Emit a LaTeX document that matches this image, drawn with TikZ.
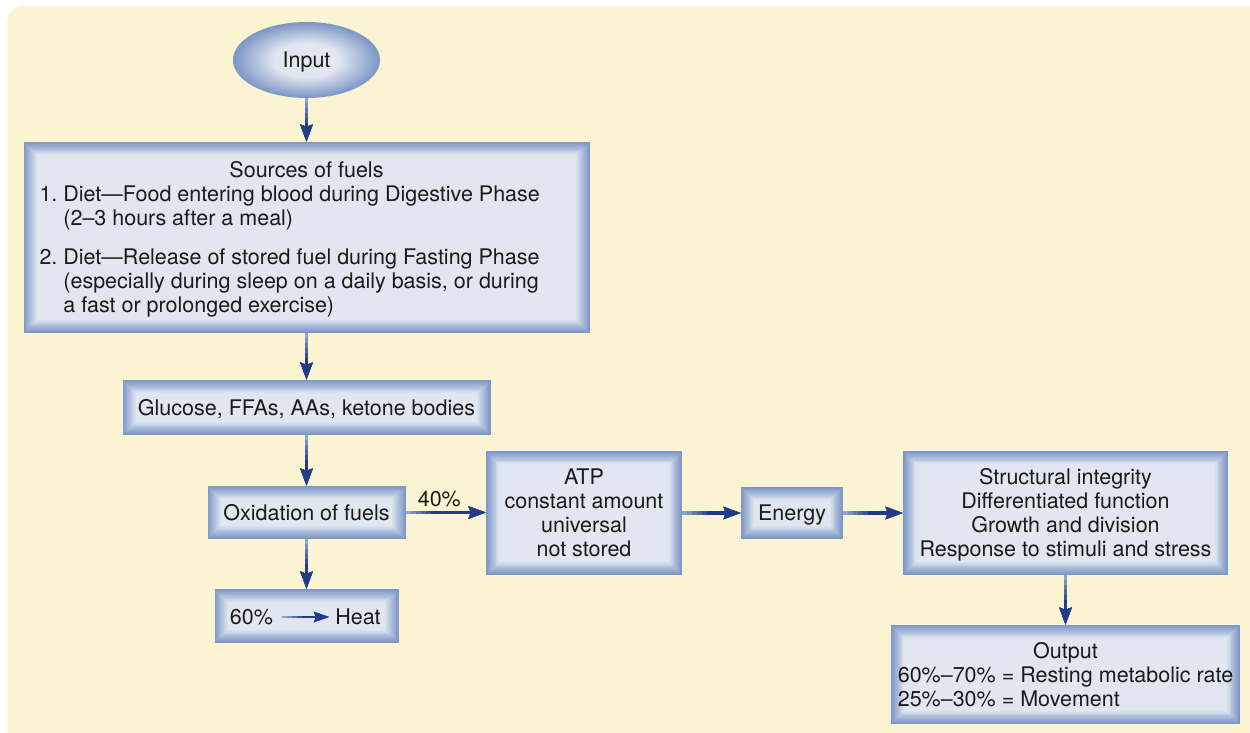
\documentclass[tikz,border=0pt]{standalone}
\usepackage{fontspec}
\setmainfont{TeX Gyre Heros}
\usetikzlibrary{arrows.meta,shapes.geometric}

\definecolor{bgcream}{HTML}{FBF4D3}
\definecolor{boxedge}{HTML}{7C95C6}
\definecolor{boxcore}{HTML}{E0E7F0}
\definecolor{arrA}{HTML}{8FA3D1}
\definecolor{arrC}{HTML}{223B86}
\definecolor{ink}{HTML}{1A1A1A}

\pgfdeclareradialshading{ovalglow}{\pgfpointorigin}{color(0bp)=(boxcore); color(11bp)=(boxcore); color(25bp)=(boxedge); color(50bp)=(boxedge)}

% text block set a little below the box centre, keeping its size
\newcommand\boxlines[2][c]{\raisebox{-3pt}[\height][\depth]{\begin{tabular}{@{}#1@{}}#2\end{tabular}}}

\tikzset{
  txt/.style={font=\fontsize{21.5}{24}\selectfont, text=ink},
  glowbox/.style={rectangle, inner sep=0pt, fill=boxedge, txt, align=center,
    path picture={
      \foreach \i in {1,...,14}{
        \pgfmathsetmacro\pct{\i*100/14}
        \fill[boxcore!\pct!boxedge]
          ([xshift=\i*0.95pt, yshift=-\i*0.95pt]path picture bounding box.north west)
          rectangle
          ([xshift=-\i*0.95pt, yshift=\i*0.95pt]path picture bounding box.south east);
      }
    }},
  flowtip/.style={-{Stealth[length=17pt,width=12pt,inset=2pt]}},
  layer/.style 2 args={postaction={draw=arrC!#1!arrA, line width=3.2pt, flowtip, shorten <=#2}},
  flow/.style={line width=3.2pt, draw=arrA, flowtip,
    layer={20}{5pt}, layer={40}{10pt}, layer={60}{15pt}, layer={80}{20pt}, layer={100}{25pt}},
  smalltip/.style={-{Stealth[length=15pt,width=10pt,inset=2pt]}},
  slayer/.style 2 args={postaction={draw=arrC!#1!arrA, line width=2.6pt, smalltip, shorten <=#2}},
  flowsm/.style={line width=2.6pt, draw=arrA, smalltip,
    slayer={25}{5pt}, slayer={50}{10pt}, slayer={75}{15pt}, slayer={100}{20pt}},
}

\begin{document}
\begin{tikzpicture}[x=1pt, y=-1pt]
  \useasboundingbox (0,0) rectangle (1250,733);
  \begin{scope}
    \clip (0,0) rectangle (1250,733);
    \fill[bgcream, rounded corners=16pt] (7,6) rectangle (1285,770);
  \end{scope}

  % input oval
  \node[ellipse, minimum width=147pt, minimum height=76pt, shade, shading=ovalglow, txt]
    (input) at (306.5,60) {\boxlines{Input}};

  % fuel sources
  \node[glowbox, minimum width=566pt, minimum height=191pt]
    (src) at (306.5,237.5) {\boxlines[l]{%
      \makebox[534pt]{Sources of fuels}\\
      1.~Diet---Food entering blood during Digestive Phase\\
      \hphantom{1.~}(2--3 hours after a meal)\\[15pt]
      2.~Diet---Release of stored fuel during Fasting Phase\\
      \hphantom{1.~}(especially during sleep on a daily basis, or during\\
      \hphantom{1.~}a fast or prolonged exercise)}};

  \node[glowbox, minimum width=368pt, minimum height=55pt]
    (fuels) at (306.5,407.5) {\boxlines{Glucose, FFAs, AAs, ketone bodies}};

  \node[glowbox, minimum width=198pt, minimum height=53pt]
    (oxid) at (306.5,512.5) {\boxlines{Oxidation of fuels}};

  \node[glowbox, minimum width=184pt, minimum height=54pt]
    (heatbox) at (306.5,616) {};
  \node[txt, inner sep=0pt] (p60) at (251.5,617) {60\%};
  \node[txt, inner sep=0pt] (heat) at (358,617) {Heat};

  \node[glowbox, minimum width=196pt, minimum height=124pt]
    (atp) at (584,513) {\boxlines{ATP\\constant amount\\universal\\not stored}};

  \node[glowbox, minimum width=102pt, minimum height=52pt]
    (energy) at (792,513) {\boxlines{Energy}};

  \node[glowbox, minimum width=325pt, minimum height=124pt]
    (struct) at (1065.5,513) {\boxlines{Structural integrity\\Differentiated function\\Growth and division\\Response to stimuli and stress}};

  \node[glowbox, minimum width=349pt, minimum height=99pt]
    (output) at (1065.5,674.5) {\boxlines[l]{%
        \multicolumn{1}{@{}c@{}}{Output}\\
        60\%--70\% = Resting metabolic rate\\
        25\%--30\% = Movement}};

  % connectors
  \draw[flow] (input.south) -- (src.north);
  \draw[flow] (src.south) -- (fuels.north);
  \draw[flow] (fuels.south) -- (oxid.north);
  \draw[flow] (oxid.south) -- (heatbox.north);
  \draw[flow] (oxid.east) -- node[pos=0.42, above, txt, inner sep=4pt] (f40) {40\%} (oxid.east -| atp.west);
  \draw[flow] (atp.east) -- (energy.west);
  \draw[flow] (energy.east) -- (struct.west);
  \draw[flow] (struct.south) -- (output.north);
  \draw[flowsm] ([xshift=9pt]p60.east) -- ([xshift=-6pt]heat.west);
\end{tikzpicture}
\end{document}
